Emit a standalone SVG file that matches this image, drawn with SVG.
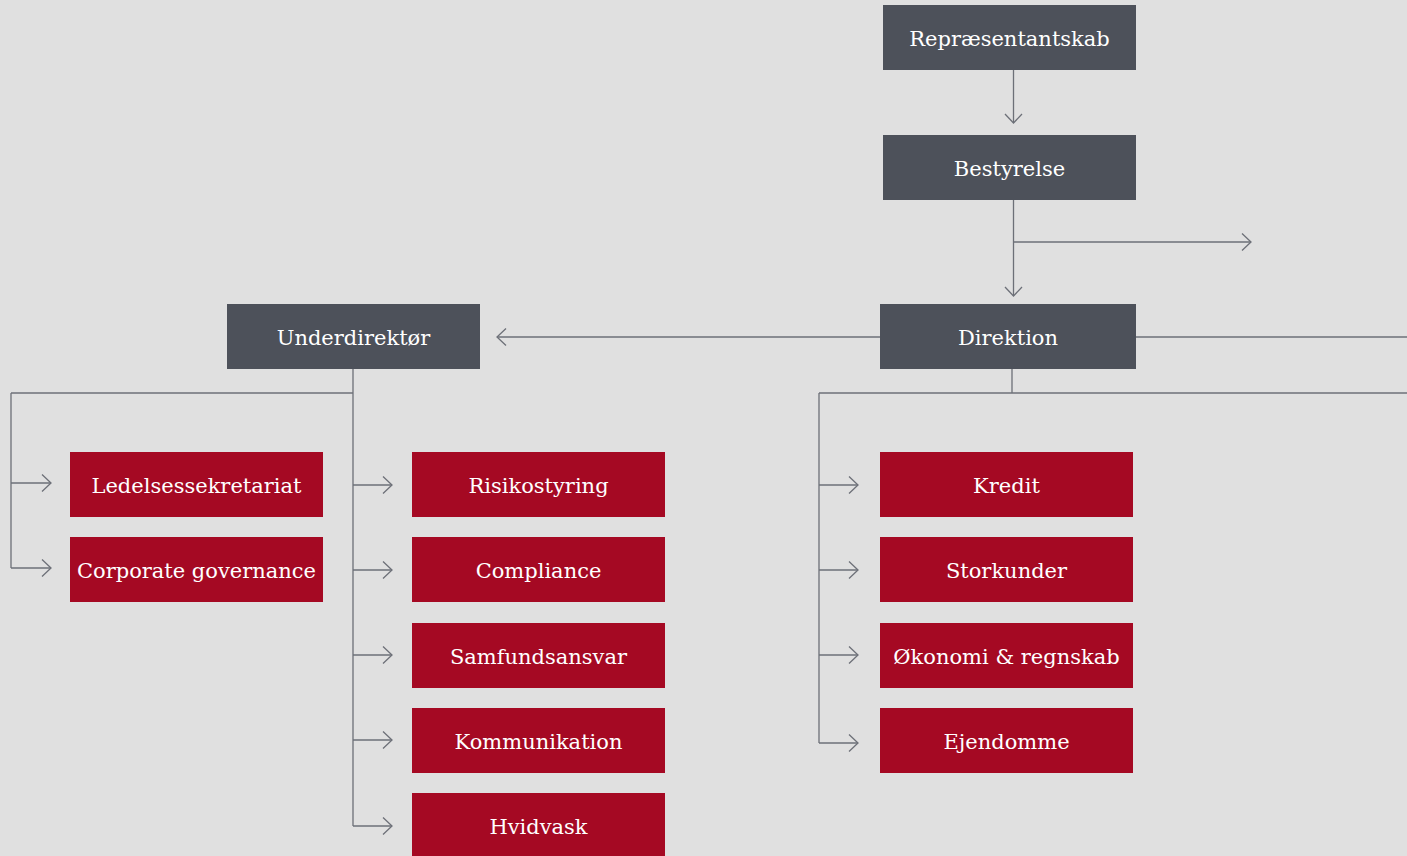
<svg xmlns="http://www.w3.org/2000/svg" width="1407" height="856" viewBox="0 0 1407 856">
<style>
.bg{fill:#e0e0e0}
.dark{fill:#4d515a}
.red{fill:#a50923}
.t{fill:#ffffff;font-family:"DejaVu Serif","Liberation Serif",serif;font-size:21px;text-anchor:middle}
.c{fill:none;stroke:#6d7078;stroke-width:1.3}
</style>
<defs>
<marker id="ah" viewBox="0 0 12 20" refX="11" refY="10" markerWidth="12" markerHeight="20" markerUnits="userSpaceOnUse" orient="auto">
<path d="M2,1.5 L11,10 L2,18.5" fill="none" stroke="#6d7078" stroke-width="1.3"/>
</marker>
</defs>
<rect class="bg" x="0" y="0" width="1407" height="856"/>
<g id="connectors">
<path class="c" d="M1013.5,70 V123" marker-end="url(#ah)"/>
<path class="c" d="M1013.5,200 V296" marker-end="url(#ah)"/>
<path class="c" d="M1013.5,242 H1251" marker-end="url(#ah)"/>
<path class="c" d="M880,337 H497" marker-end="url(#ah)"/>
<path class="c" d="M1136,337 H1407"/>
<path class="c" d="M1012,369 V393 M819,393 H1407 M819,393 V743"/>
<path class="c" d="M819,485 H858" marker-end="url(#ah)"/>
<path class="c" d="M819,570 H858" marker-end="url(#ah)"/>
<path class="c" d="M819,655 H858" marker-end="url(#ah)"/>
<path class="c" d="M819,743 H858" marker-end="url(#ah)"/>
<path class="c" d="M353,369 V826 M11,393 H353 M11,393 V568"/>
<path class="c" d="M11,483 H51" marker-end="url(#ah)"/>
<path class="c" d="M11,568 H51" marker-end="url(#ah)"/>
<path class="c" d="M353,485 H392" marker-end="url(#ah)"/>
<path class="c" d="M353,570 H392" marker-end="url(#ah)"/>
<path class="c" d="M353,655 H392" marker-end="url(#ah)"/>
<path class="c" d="M353,740 H392" marker-end="url(#ah)"/>
<path class="c" d="M353,826 H392" marker-end="url(#ah)"/>
</g>
<g id="representantskab"><rect class="dark" x="883" y="5" width="253" height="65"/><text class="t" x="1009.5" y="46">Repræsentantskab</text></g>
<g id="bestyrelse"><rect class="dark" x="883" y="135" width="253" height="65"/><text class="t" x="1009.5" y="176">Bestyrelse</text></g>
<g id="direktion"><rect class="dark" x="880" y="304" width="256" height="65"/><text class="t" x="1008" y="345">Direktion</text></g>
<g id="underdirektor"><rect class="dark" x="227" y="304" width="253" height="65"/><text class="t" x="353.5" y="345">Underdirektør</text></g>
<g id="ledelsessekretariat"><rect class="red" x="70" y="452" width="253" height="65"/><text class="t" x="196.5" y="493">Ledelsessekretariat</text></g>
<g id="corporate-governance"><rect class="red" x="70" y="537" width="253" height="65"/><text class="t" x="196.5" y="578">Corporate governance</text></g>
<g id="risikostyring"><rect class="red" x="412" y="452" width="253" height="65"/><text class="t" x="538.5" y="493">Risikostyring</text></g>
<g id="compliance"><rect class="red" x="412" y="537" width="253" height="65"/><text class="t" x="538.5" y="578">Compliance</text></g>
<g id="samfundsansvar"><rect class="red" x="412" y="623" width="253" height="65"/><text class="t" x="538.5" y="664">Samfundsansvar</text></g>
<g id="kommunikation"><rect class="red" x="412" y="708" width="253" height="65"/><text class="t" x="538.5" y="749">Kommunikation</text></g>
<g id="hvidvask"><rect class="red" x="412" y="793" width="253" height="65"/><text class="t" x="538.5" y="834">Hvidvask</text></g>
<g id="kredit"><rect class="red" x="880" y="452" width="253" height="65"/><text class="t" x="1006.5" y="493">Kredit</text></g>
<g id="storkunder"><rect class="red" x="880" y="537" width="253" height="65"/><text class="t" x="1006.5" y="578">Storkunder</text></g>
<g id="okonomi"><rect class="red" x="880" y="623" width="253" height="65"/><text class="t" x="1006.5" y="664">Økonomi &amp; regnskab</text></g>
<g id="ejendomme"><rect class="red" x="880" y="708" width="253" height="65"/><text class="t" x="1006.5" y="749">Ejendomme</text></g>
</svg>
